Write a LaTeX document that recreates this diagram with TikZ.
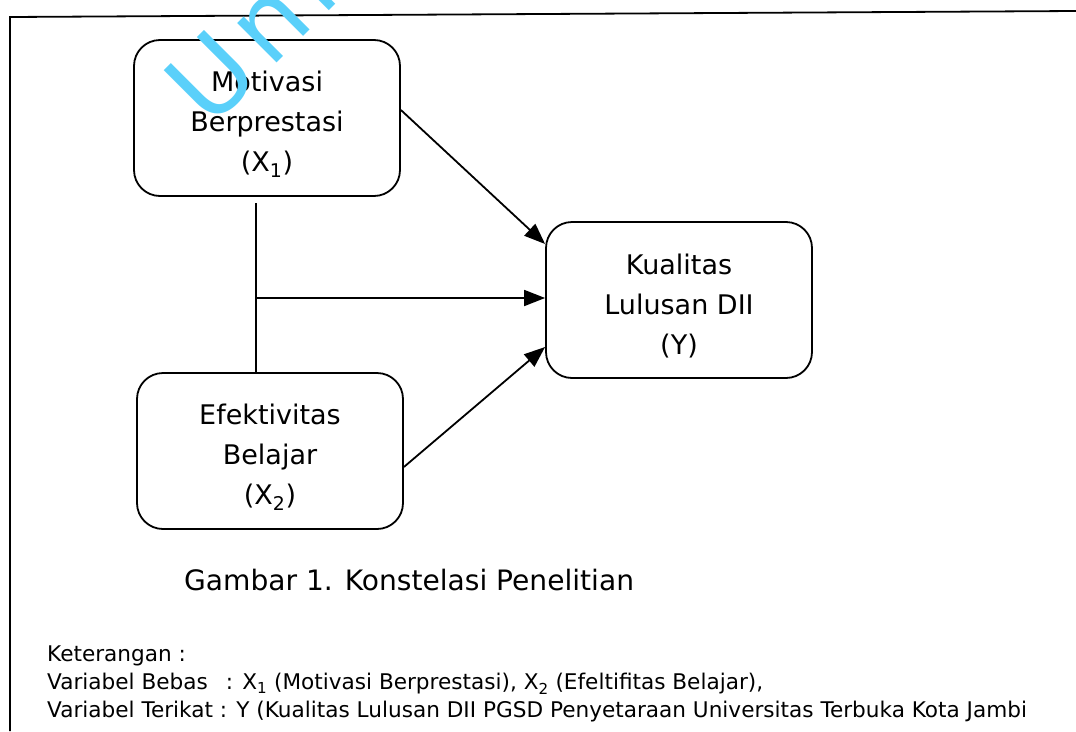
\documentclass[tikz,border=0pt]{standalone}
\usepackage{fontspec}
\setmainfont{DejaVu Sans}
\newfontfamily\wmfont{DejaVu Sans}
\usepackage{calc}
\usetikzlibrary{arrows.meta,calc}
\definecolor{wm}{RGB}{90,208,250}
\newcommand{\tstrut}{\rule{0pt}{33pt}}
\begin{document}
\begin{tikzpicture}[x=1pt,y=-1pt,
  box/.style={draw,line width=1.8pt,rounded corners=26pt,minimum width=266pt,minimum height=156pt,inner sep=0pt,align=center,font=\fontsize{27}{40}\selectfont},
  conn/.style={line width=1.8pt},
  arr/.style={conn,-{Triangle[length=21pt,width=16pt]}}]
\useasboundingbox (0,0) rectangle (1076,731);
\draw[conn] (10,731) -- (10,17) -- (1076,11);
\node[box] (X1) at (267,118) {\tstrut Motivasi\\Berprestasi\\(X\textsubscript{1})};
\node[box] (X2) at (270,451) {\tstrut Efektivitas\\Belajar\\(X\textsubscript{2})};
\node[box] (Y) at (679,300) {\tstrut Kualitas\\Lulusan DII\\(Y)};
\draw[arr] ([yshift=8pt]X1.east) -- ([yshift=56pt]Y.west);
\coordinate (vt) at (256,203);
\coordinate (jn) at (256,298);
\draw[conn] (vt) -- (vt |- X2.north);
\draw[arr] (jn) -- (jn -| Y.west);
\draw[arr] ([yshift=-16pt]X2.east) -- ([yshift=-47pt]Y.west);
\node[anchor=base west,inner sep=0pt,font=\fontsize{28.1}{32}\selectfont] (cap) at (184,590) {Gambar 1. Konstelasi Penelitian};
\node[anchor=north west,inner sep=0pt,align=left,font=\fontsize{21.6}{28}\selectfont] (ket) at (47,646)
 {Keterangan :\\
  \makebox[\widthof{Variabel Terikat\ }+6pt][l]{Variabel Bebas}: X\textsubscript{1} (Motivasi Berprestasi), X\textsubscript{2} (Efeltifitas Belajar),\\
  Variabel Terikat : Y (Kualitas Lulusan DII PGSD Penyetaraan Universitas Terbuka Kota Jambi};
\begin{scope}
\clip (0,0) rectangle (1076,731);
\node[rotate=45,anchor=base west,text=wm,inner sep=0pt,font=\wmfont\fontsize{102}{102}\selectfont] (wmk) at (210,130) {U\kern10pt n\kern10pt i};
\end{scope}
\end{tikzpicture}
\end{document}
